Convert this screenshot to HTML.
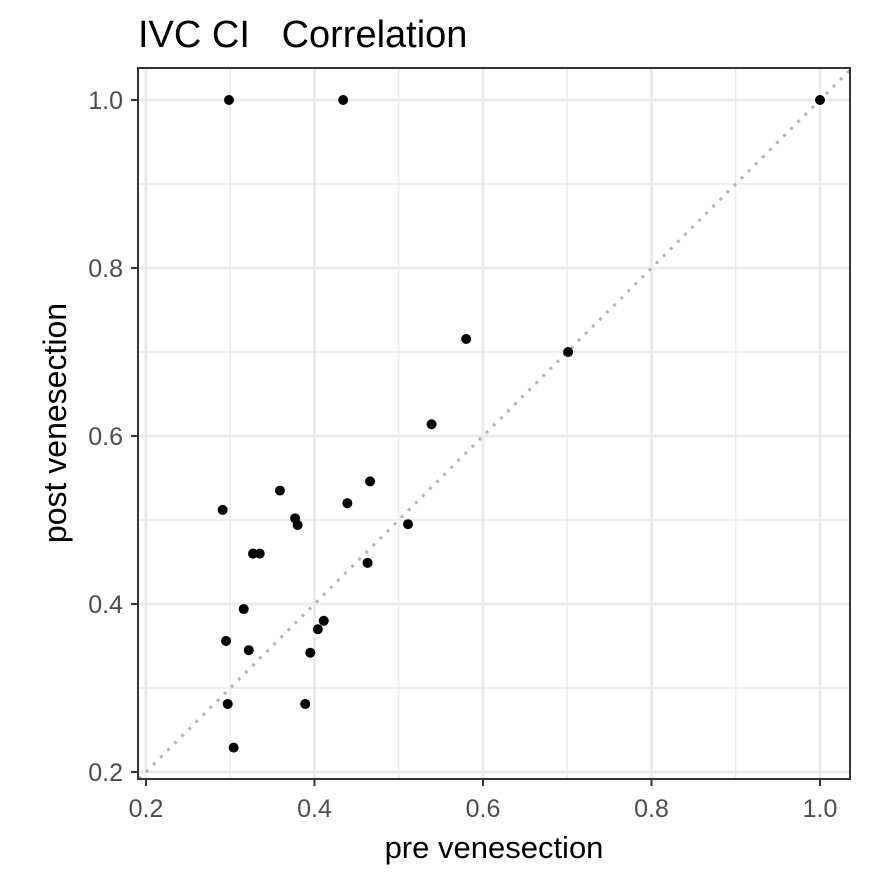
<!DOCTYPE html>
<html><head><meta charset="utf-8"><style>
body{margin:0;background:#fff}
text{font-family:"Liberation Sans",sans-serif}
</style></head><body>
<svg id="chart" width="885" height="885" xmlns="http://www.w3.org/2000/svg">
<rect width="885" height="885" fill="#fff"/>
<text x="138" y="47" font-size="38" fill="#000" style="white-space:pre" xml:space="preserve">IVC CI   Correlation</text>
<g id="grid"></g>
<line id="ref" stroke="#b3b3b3" stroke-width="3" stroke-dasharray="3,7"/>
<g id="pts"></g>
<rect x="138" y="68" width="712" height="711" fill="none" stroke="#333" stroke-width="2"/>
<g id="axes"></g>
<text x="494" y="858" font-size="31" text-anchor="middle">pre venesection</text>
<text transform="translate(66,423) rotate(-90)" font-size="32" text-anchor="middle">post venesection</text>
</svg>
<script>
const xVals=[0.2985,0.434,1.0,0.580,0.701,0.539,0.359,0.291,0.377,0.380,0.439,0.466,0.511,0.463,0.327,0.335,0.316,0.295,0.322,0.411,0.404,0.395,0.389,0.297,0.304];
const yVals=[1.0,1.0,1.0,0.7155,0.700,0.614,0.535,0.512,0.502,0.494,0.520,0.546,0.495,0.449,0.460,0.460,0.394,0.356,0.345,0.380,0.370,0.342,0.281,0.281,0.229];
const majorTicks=[0.2,0.4,0.6,0.8,1.0];
const tickLabels=["0.2","0.4","0.6","0.8","1.0"];
const minorTicks=[0.3,0.5,0.7,0.9];
const NS="http://www.w3.org/2000/svg";
const L=138,R=850,T=68,B=779;
const sx=v=>146+(v-0.2)*842.5;
const sy=v=>772-(v-0.2)*840;
function mk(tag,attrs,parent){const e=document.createElementNS(NS,tag);for(const k in attrs)e.setAttribute(k,attrs[k]);parent.appendChild(e);return e;}
const grid=document.getElementById('grid'),axes=document.getElementById('axes'),pts=document.getElementById('pts');
minorTicks.forEach(v=>{
 let a=mk('line',{x1:sx(v),x2:sx(v),y1:T,y2:B,stroke:'#ebebeb','stroke-width':1.5},grid);
 
 
 let b=mk('line',{x1:L,x2:R,y1:sy(v),y2:sy(v),stroke:'#ebebeb','stroke-width':1.5},grid);
 
 
});
majorTicks.forEach((v,i)=>{
 let a=mk('line',{x1:sx(v),x2:sx(v),y1:T,y2:B,stroke:'#ebebeb','stroke-width':3},grid);
 
 
 let b=mk('line',{x1:L,x2:R,y1:sy(v),y2:sy(v),stroke:'#ebebeb','stroke-width':3},grid);
 
 
 let tx=mk('line',{x1:sx(v),x2:sx(v),y1:B,y2:B+7,stroke:'#333','stroke-width':2},axes);
 
 
 let ty=mk('line',{x1:L-7,x2:L,y1:sy(v),y2:sy(v),stroke:'#333','stroke-width':2},axes);
 
 
 let lx=mk('text',{x:sx(v),y:B+38,'font-size':25,fill:'#4d4d4d','text-anchor':'middle'},axes);
 lx.textContent=tickLabels[i];
 
 
 let ly=mk('text',{x:L-15,y:sy(v)+9,'font-size':25,fill:'#4d4d4d','text-anchor':'end'},axes);
 ly.textContent=tickLabels[i];
 
 
});
const lo=0.1917,hi=1.0356;
const ref=document.getElementById('ref');
ref.setAttribute('x1',sx(lo));ref.setAttribute('y1',sy(lo));
ref.setAttribute('x2',sx(hi));ref.setAttribute('y2',sy(hi));
xVals.forEach((x,i)=>{
 let c=mk('circle',{cx:sx(x),cy:sy(yVals[i]),r:5,fill:'#000'},pts);
 
 
});
</script>
</body></html>
